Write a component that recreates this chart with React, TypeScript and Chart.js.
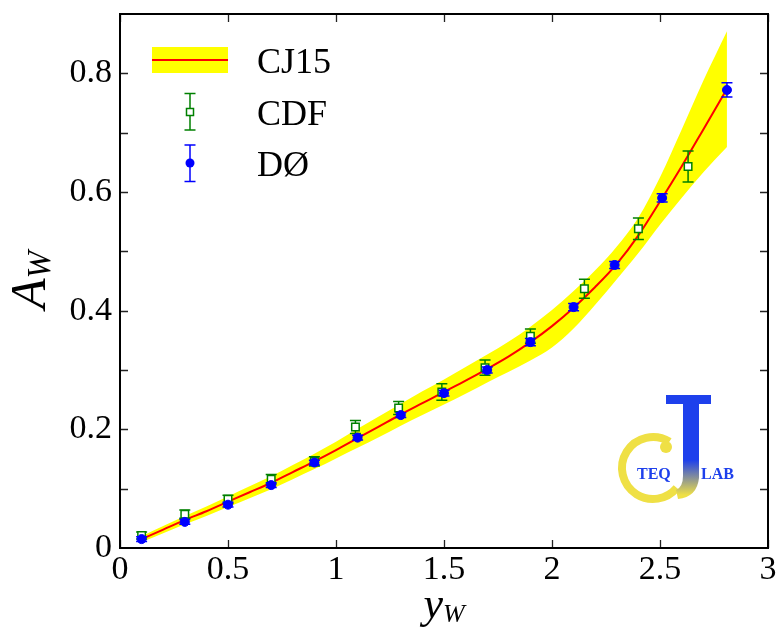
import { useEffect, useRef } from "react";
import { Chart, registerables } from "chart.js";

Chart.register(...registerables);

// CJ15 fit: central curve and uncertainty band edges versus rapidity
const cj15Y = [0.1, 0.2, 0.3, 0.4, 0.5, 0.6, 0.7, 0.8, 0.9, 1.0, 1.1, 1.2, 1.3, 1.4, 1.5, 1.6, 1.7, 1.8, 1.9, 2.0, 2.1, 2.2, 2.3, 2.4, 2.5, 2.6, 2.7, 2.81];
const cj15A = [0.015, 0.031, 0.047, 0.062, 0.078, 0.094, 0.110, 0.128, 0.146, 0.165, 0.185, 0.205, 0.225, 0.244, 0.263, 0.282, 0.302, 0.323, 0.347, 0.374, 0.405, 0.440, 0.479, 0.527, 0.584, 0.643, 0.705, 0.774];
const cj15Upper = [0.020, 0.037, 0.054, 0.070, 0.087, 0.104, 0.121, 0.140, 0.159, 0.179, 0.201, 0.222, 0.243, 0.264, 0.284, 0.305, 0.326, 0.348, 0.373, 0.401, 0.433, 0.468, 0.508, 0.557, 0.625, 0.705, 0.787, 0.871];
const cj15Lower = [0.010, 0.025, 0.040, 0.054, 0.069, 0.084, 0.099, 0.116, 0.133, 0.151, 0.169, 0.187, 0.206, 0.224, 0.242, 0.260, 0.279, 0.297, 0.316, 0.338, 0.370, 0.410, 0.453, 0.497, 0.545, 0.590, 0.633, 0.676];

// CDF W charge asymmetry
const cdfY = [0.1, 0.3, 0.5, 0.7, 0.9, 1.09, 1.29, 1.49, 1.69, 1.9, 2.15, 2.4, 2.63];
const cdfA = [0.021, 0.057, 0.082, 0.116, 0.146, 0.204, 0.236, 0.263, 0.304, 0.357, 0.437, 0.538, 0.643];
const cdfErr = [0.006, 0.007, 0.007, 0.008, 0.008, 0.011, 0.011, 0.014, 0.013, 0.012, 0.016, 0.018, 0.026];

// D0 W charge asymmetry
const d0Y = [0.1, 0.3, 0.5, 0.7, 0.9, 1.1, 1.3, 1.5, 1.7, 1.9, 2.1, 2.29, 2.51, 2.81];
const d0A = [0.015, 0.044, 0.073, 0.106, 0.144, 0.186, 0.224, 0.261, 0.300, 0.347, 0.406, 0.477, 0.590, 0.772];
const d0Err = [0.004, 0.004, 0.004, 0.004, 0.004, 0.004, 0.004, 0.005, 0.005, 0.006, 0.006, 0.006, 0.007, 0.012];

// Axis ticks
const xTickValues = [0, 0.5, 1, 1.5, 2, 2.5, 3];
const xTickLabels = ["0", "0.5", "1", "1.5", "2", "2.5", "3"];
const yTickValues = [0, 0.2, 0.4, 0.6, 0.8];
const yTickLabels = ["0", "0.2", "0.4", "0.6", "0.8"];
const yMarkValues = [0.1, 0.2, 0.3, 0.4, 0.5, 0.6, 0.7, 0.8];

const legendLabels = ["CJ15", "CDF", "DØ"];

const SERIF = '"Liberation Serif", "Times New Roman", serif';
const YELLOW = "#ffff00";
const RED = "#ff0000";
const GREEN = "#008000";
const BLUE = "#0000ff";

const pts = (xs: number[], ys: number[]) => xs.map((x, i) => ({ x, y: ys[i] }));

function drawErrorBar(ctx: CanvasRenderingContext2D, x: number, y0: number, y1: number, cap: number) {
  ctx.beginPath();
  ctx.moveTo(x, y0);
  ctx.lineTo(x, y1);
  ctx.moveTo(x - cap, y0);
  ctx.lineTo(x + cap, y0);
  ctx.moveTo(x - cap, y1);
  ctx.lineTo(x + cap, y1);
  ctx.stroke();
}

// error bars drawn underneath each data set's markers
const errorBarPlugin = {
  id: "errorBars",
  beforeDatasetDraw(chart: any, args: any) {
    const ds = chart.data.datasets[args.index];
    if (!ds.errors) return;
    const { ctx, scales } = chart;
    ctx.save();
    ctx.strokeStyle = ds.borderColor;
    ctx.lineWidth = 1.5;
    ds.data.forEach((p: any, i: number) => {
      const px = scales.x.getPixelForValue(p.x);
      const yt = scales.y.getPixelForValue(p.y + ds.errors[i]);
      const yb = scales.y.getPixelForValue(p.y - ds.errors[i]);
      drawErrorBar(ctx, px, yt, yb, 5.5);
    });
    ctx.restore();
  },
};

function drawLogo(ctx: CanvasRenderingContext2D) {
  ctx.save();
  ctx.filter = "blur(0.7px)";
  const cYellow = "#efe045";
  const jBlue = "#1e40ec";
  // yellow C
  ctx.strokeStyle = cYellow;
  ctx.lineWidth = 8;
  ctx.beginPath();
  ctx.arc(653, 468, 31, (-58 * Math.PI) / 180, (40 * Math.PI) / 180, true);
  ctx.stroke();
  ctx.fillStyle = cYellow;
  ctx.beginPath();
  ctx.arc(666, 447, 6, 0, Math.PI * 2);
  ctx.fill();
  // blue J
  ctx.fillStyle = jBlue;
  ctx.fillRect(666, 395, 45, 9);
  const g = ctx.createLinearGradient(0, 460, 0, 495);
  g.addColorStop(0, jBlue);
  g.addColorStop(1, cYellow);
  ctx.fillStyle = g;
  ctx.beginPath();
  ctx.moveTo(683, 398);
  ctx.lineTo(699, 398);
  ctx.lineTo(699, 478);
  ctx.quadraticCurveTo(697, 497, 678, 499);
  ctx.lineTo(676, 490);
  ctx.quadraticCurveTo(683, 487, 683, 476);
  ctx.closePath();
  ctx.fill();
  // lettering
  ctx.fillStyle = jBlue;
  ctx.font = `bold 16px ${SERIF}`;
  ctx.textBaseline = "middle";
  ctx.textAlign = "left";
  ctx.fillText("TEQ", 637, 475);
  ctx.fillText("LAB", 701, 475);
  ctx.restore();
}

const decorPlugin = {
  id: "decor",
  afterDraw(chart: any) {
    const { ctx, chartArea, scales } = chart;
    const { left, right, top, bottom } = chartArea;
    const xs = scales.x;
    const ys = scales.y;

    drawLogo(ctx);

    // inward tick marks on all four sides
    ctx.save();
    ctx.strokeStyle = "#222";
    ctx.lineWidth = 1.3;
    ctx.beginPath();
    xTickValues.forEach((v) => {
      const px = Math.round(xs.getPixelForValue(v)) + 0.5;
      ctx.moveTo(px, bottom);
      ctx.lineTo(px, bottom - 8);
      ctx.moveTo(px, top);
      ctx.lineTo(px, top + 8);
    });
    yMarkValues.forEach((v) => {
      const py = Math.round(ys.getPixelForValue(v)) + 0.5;
      ctx.moveTo(left, py);
      ctx.lineTo(left + 8, py);
      ctx.moveTo(right, py);
      ctx.lineTo(right - 8, py);
    });
    ctx.stroke();
    // frame
    ctx.strokeStyle = "#000";
    ctx.lineWidth = 2;
    ctx.strokeRect(left, top, right - left, bottom - top);
    ctx.restore();

    // legend
    ctx.save();
    ctx.fillStyle = YELLOW;
    ctx.fillRect(152, 47, 76, 26);
    ctx.strokeStyle = RED;
    ctx.lineWidth = 2;
    ctx.beginPath();
    ctx.moveTo(152, 60);
    ctx.lineTo(228, 60);
    ctx.stroke();

    ctx.strokeStyle = GREEN;
    ctx.lineWidth = 1.5;
    drawErrorBar(ctx, 190, 93.5, 130, 5.5);
    ctx.fillStyle = "#fff";
    ctx.fillRect(186.5, 108.5, 7, 7);
    ctx.strokeRect(186.5, 108.5, 7, 7);

    ctx.strokeStyle = BLUE;
    drawErrorBar(ctx, 190, 145, 181.5, 5.5);
    ctx.fillStyle = BLUE;
    ctx.beginPath();
    ctx.arc(190, 163, 4.5, 0, Math.PI * 2);
    ctx.fill();

    ctx.fillStyle = "#000";
    ctx.font = `36px ${SERIF}`;
    ctx.textAlign = "left";
    ctx.textBaseline = "alphabetic";
    ctx.fillText(legendLabels[0], 257, 73);
    ctx.fillText(legendLabels[1], 257, 125);
    ctx.fillText(legendLabels[2], 257, 176);
    ctx.restore();

    // axis titles
    ctx.save();
    ctx.fillStyle = "#000";
    ctx.textAlign = "left";
    ctx.textBaseline = "alphabetic";
    const cx = (left + right) / 2;
    ctx.font = `italic 44px ${SERIF}`;
    const wy = ctx.measureText("y").width;
    ctx.font = `italic 26px ${SERIF}`;
    const ww = ctx.measureText("W").width;
    const sx = cx - (wy + ww) / 2;
    ctx.font = `italic 44px ${SERIF}`;
    ctx.fillText("y", sx, 618);
    ctx.font = `italic 26px ${SERIF}`;
    ctx.fillText("W", sx + wy, 622);

    ctx.translate(45, (top + bottom) / 2 - 1);
    ctx.rotate(-Math.PI / 2);
    ctx.font = `italic 50px ${SERIF}`;
    const wa = ctx.measureText("A").width;
    ctx.font = `italic 33px ${SERIF}`;
    const ws = ctx.measureText("W").width;
    const sa = -(wa + ws) / 2;
    ctx.font = `italic 50px ${SERIF}`;
    ctx.fillText("A", sa, 0);
    ctx.font = `italic 33px ${SERIF}`;
    ctx.fillText("W", sa + wa, 5);
    ctx.restore();
  },
};

export default function App() {
  const canvasRef = useRef<HTMLCanvasElement | null>(null);

  useEffect(() => {
    const canvas = canvasRef.current;
    if (!canvas) return;
    const chart = new Chart(canvas, {
      type: "line",
      data: {
        datasets: [
          {
            label: "CJ15 upper",
            data: pts(cj15Y, cj15Upper),
            borderWidth: 0,
            pointRadius: 0,
            backgroundColor: YELLOW,
            fill: "+1",
            cubicInterpolationMode: "monotone",
            order: 5,
          },
          {
            label: "CJ15 lower",
            data: pts(cj15Y, cj15Lower),
            borderWidth: 0,
            pointRadius: 0,
            fill: false,
            cubicInterpolationMode: "monotone",
            order: 6,
          },
          {
            label: legendLabels[0],
            data: pts(cj15Y, cj15A),
            borderColor: RED,
            borderWidth: 2,
            pointRadius: 0,
            fill: false,
            cubicInterpolationMode: "monotone",
            order: 3,
          },
          {
            label: legendLabels[1],
            data: pts(cdfY, cdfA),
            showLine: false,
            pointStyle: "rect",
            pointRadius: 5.3,
            pointBorderWidth: 1.5,
            pointBackgroundColor: "#ffffff",
            pointBorderColor: GREEN,
            borderColor: GREEN,
            errors: cdfErr,
            order: 2,
          } as any,
          {
            label: legendLabels[2],
            data: pts(d0Y, d0A),
            showLine: false,
            pointStyle: "circle",
            pointRadius: 4.5,
            pointBorderWidth: 1,
            pointBackgroundColor: BLUE,
            pointBorderColor: BLUE,
            borderColor: BLUE,
            errors: d0Err,
            order: 1,
          } as any,
        ],
      },
      options: {
        animation: false,
        responsive: false,
        events: [],
        layout: { padding: { top: 14, right: 9, left: 0, bottom: 0 } },
        plugins: {
          legend: { display: false },
          tooltip: { enabled: false },
        },
        scales: {
          x: {
            type: "linear",
            min: 0,
            max: 3,
            grid: { display: false, drawTicks: false },
            border: { display: false },
            afterBuildTicks: (scale: any) => {
              scale.ticks = xTickValues.map((value) => ({ value }));
            },
            afterFit: (scale: any) => {
              scale.height = 84;
              scale.paddingLeft = 0;
              scale.paddingRight = 0;
            },
            ticks: {
              autoSkip: false,
              maxRotation: 0,
              padding: 2,
              color: "#000",
              font: { family: SERIF, size: 34 },
              callback: (v: any) => xTickLabels[xTickValues.indexOf(Number(v))],
            },
          },
          y: {
            type: "linear",
            min: 0,
            max: 0.9,
            grid: { display: false, drawTicks: false },
            border: { display: false },
            afterBuildTicks: (scale: any) => {
              scale.ticks = yTickValues.map((value) => ({ value }));
            },
            afterFit: (scale: any) => {
              scale.width = 120;
              scale.paddingTop = 0;
              scale.paddingBottom = 0;
            },
            ticks: {
              autoSkip: false,
              padding: 8,
              color: "#000",
              font: { family: SERIF, size: 34 },
              callback: (v: any) => yTickLabels[yTickValues.indexOf(Number(v))],
            },
          },
        },
      },
      plugins: [errorBarPlugin, decorPlugin],
    });
    return () => chart.destroy();
  }, []);

  return (
    <div style={{ position: "fixed", left: 0, top: 0, width: 777, height: 632, background: "#fff" }}>
      <canvas ref={canvasRef} width={777} height={632} style={{ width: 777, height: 632, display: "block" }} />
    </div>
  );
}
